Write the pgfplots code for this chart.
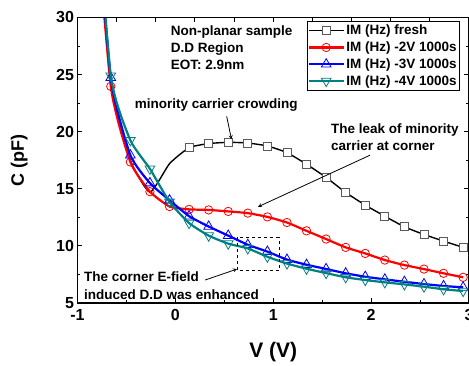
\documentclass[border=0pt]{standalone}
\usepackage{fontspec}
\setmainfont{Liberation Sans}
\usepackage{pgfplots}
\pgfplotsset{compat=1.18}
\definecolor{tealc}{RGB}{0,128,128}
\definecolor{mkgray}{RGB}{90,90,90}
\begin{document}
\begin{tikzpicture}
\begin{axis}[name=ax, scale only axis, width=391.5pt, height=285.5pt,
  xmin=-1, xmax=3, ymin=5, ymax=30,
  xtick={-1,0,1,2,3}, minor x tick num=1,
  ytick={5,10,...,30}, minor y tick num=1,
  xtick pos=left, ytick pos=both,
  tick align=inside, major tick length=5pt, minor tick length=3pt,
  axis line style={line width=1.2pt},
  every tick/.style={line width=1pt, black},
  /pgf/number format/assume math mode=true,
  tick label style={font=\fontsize{16}{16}\selectfont\bfseries},
  xticklabel style={yshift=-2.5pt},
  xlabel={V (V)}, ylabel={C (pF)},
  every axis x label/.style={at={(axis description cs:0.5,-0.172)}, anchor=center, font=\fontsize{21}{21}\selectfont\bfseries},
  every axis y label/.style={at={(axis description cs:-0.149,0.5)}, anchor=center, rotate=90, font=\fontsize{18}{18}\selectfont\bfseries},
  clip mode=individual,
  legend style={at={(0.977,0.989)}, anchor=north east, draw=black, line width=0.8pt,
    font=\fontsize{13.5}{15}\selectfont\bfseries, inner xsep=1pt, inner ysep=2pt,
    row sep=1.5pt, cells={anchor=west}},
  legend image code/.code={\draw[#1,mark repeat=2,mark phase=2] plot coordinates {(0pt,0pt) (17pt,0pt) (34pt,0pt)};},
  smooth, tension=0.3,
]
\addplot[black, line width=1.4pt, mark=square*, mark size=4pt, mark repeat=1, mark phase=5,
  mark options={fill=white, draw=mkgray, line width=0.9pt, solid}] coordinates {
(-0.86,45) (-0.66,24.3) (-0.46,17.5) (-0.26,14.7) (-0.06,17.2) (0.14,18.6) (0.34,18.96) (0.54,19.07)
(0.74,19.01) (0.94,18.75) (1.14,18.17) (1.34,17.15) (1.54,16.0) (1.74,14.68) (1.94,13.57)
(2.14,12.6) (2.34,11.67) (2.54,11.0) (2.74,10.42) (2.94,9.87)};
\addlegendentry{IM (Hz) fresh}
\addplot[red, line width=2.2pt, mark=o, mark size=4.2pt,
  mark options={fill=white, draw=red, line width=0.8pt, solid}] coordinates {
(-0.86,44) (-0.66,23.97) (-0.46,17.35) (-0.26,14.75) (-0.06,13.45) (0.14,13.2) (0.34,13.15) (0.54,13.02)
(0.74,12.87) (0.94,12.54) (1.14,12.05) (1.34,11.32) (1.54,10.6) (1.74,9.87) (1.94,9.34)
(2.14,8.76) (2.34,8.32) (2.54,7.97) (2.74,7.6) (2.94,7.25)};
\addlegendentry{IM (Hz) -2V 1000s}
\addplot[blue, line width=2.2pt, mark=triangle, mark size=5.6pt,
  mark options={fill=none, draw=blue, line width=0.8pt, solid}] coordinates {
(-0.86,45) (-0.66,24.73) (-0.46,17.94) (-0.26,15.5) (-0.06,14.0) (0.14,12.6) (0.34,11.7) (0.54,10.9)
(0.74,10.1) (0.94,9.5) (1.14,8.8) (1.34,8.35) (1.54,7.98) (1.74,7.6) (1.94,7.3)
(2.14,7.07) (2.34,6.86) (2.54,6.66) (2.74,6.49) (2.94,6.37)};
\addlegendentry{IM (Hz) -3V 1000s}
\addplot[tealc, line width=2.2pt, mark=triangle, mark size=5.6pt,
  mark options={fill=none, draw=tealc, line width=0.8pt, rotate=180, solid}] coordinates {
(-0.86,46) (-0.66,24.9) (-0.46,19.25) (-0.26,16.75) (-0.06,13.85) (0.14,12.0) (0.34,10.9) (0.54,10.2)
(0.74,9.78) (0.94,9.05) (1.14,8.45) (1.34,8.0) (1.54,7.62) (1.74,7.25) (1.94,7.01)
(2.14,6.81) (2.34,6.63) (2.54,6.43) (2.74,6.2) (2.94,6.05)};
\addlegendentry{IM (Hz) -4V 1000s}

\node[anchor=west, align=left, inner sep=0pt, font=\fontsize{13.5}{16.7}\selectfont\bfseries]
  at (axis cs:-0.048,27.36) {Non-planar sample\\D.D Region\\EOT: 2.9nm};
\node[anchor=west, inner sep=0pt, font=\fontsize{13.5}{16.7}\selectfont\bfseries]
  at (axis cs:-0.416,22.3) {minority carrier crowding};
\draw[-stealth, line width=0.8pt] (axis cs:0.524,21.35) -- (axis cs:0.573,19.34);
\node[anchor=west, align=left, inner sep=0pt, font=\fontsize{13.5}{16.7}\selectfont\bfseries]
  at (axis cs:1.59,19.51) {The leak of minority\\carrier at corner};
\draw[-stealth, line width=0.8pt] (axis cs:1.988,17.94) -- (axis cs:0.844,13.42);
\node[anchor=west, align=left, inner sep=0pt, font=\fontsize{13.5}{18.3}\selectfont\bfseries]
  at (axis cs:-0.934,6.5) {The corner E-field\\induced D.D was enhanced};
\draw[-stealth, line width=0.8pt] (axis cs:0.303,7.01) -- (axis cs:0.630,7.97);
\draw[dashed, line width=0.9pt] (axis cs:0.633,10.74) rectangle (axis cs:1.059,7.82);
\end{axis}
\begin{axis}[scale only axis, width=391.5pt, height=285.5pt, at={(ax.south west)}, anchor=south west,
  xmin=-1, xmax=3, ymin=5, ymax=30, hide y axis, axis x line*=top,
  x axis line style={-, line width=1.2pt},
  xtick={-1,-0.6,...,3.01}, xticklabels={}, tick align=inside,
  major tick length=5pt, every tick/.style={line width=1pt, black}]
\end{axis}
\pgfresetboundingbox
\path ([xshift=-77.5pt,yshift=17.5pt]ax.north west) rectangle ([yshift=-62pt]ax.south east);
\end{tikzpicture}
\end{document}
